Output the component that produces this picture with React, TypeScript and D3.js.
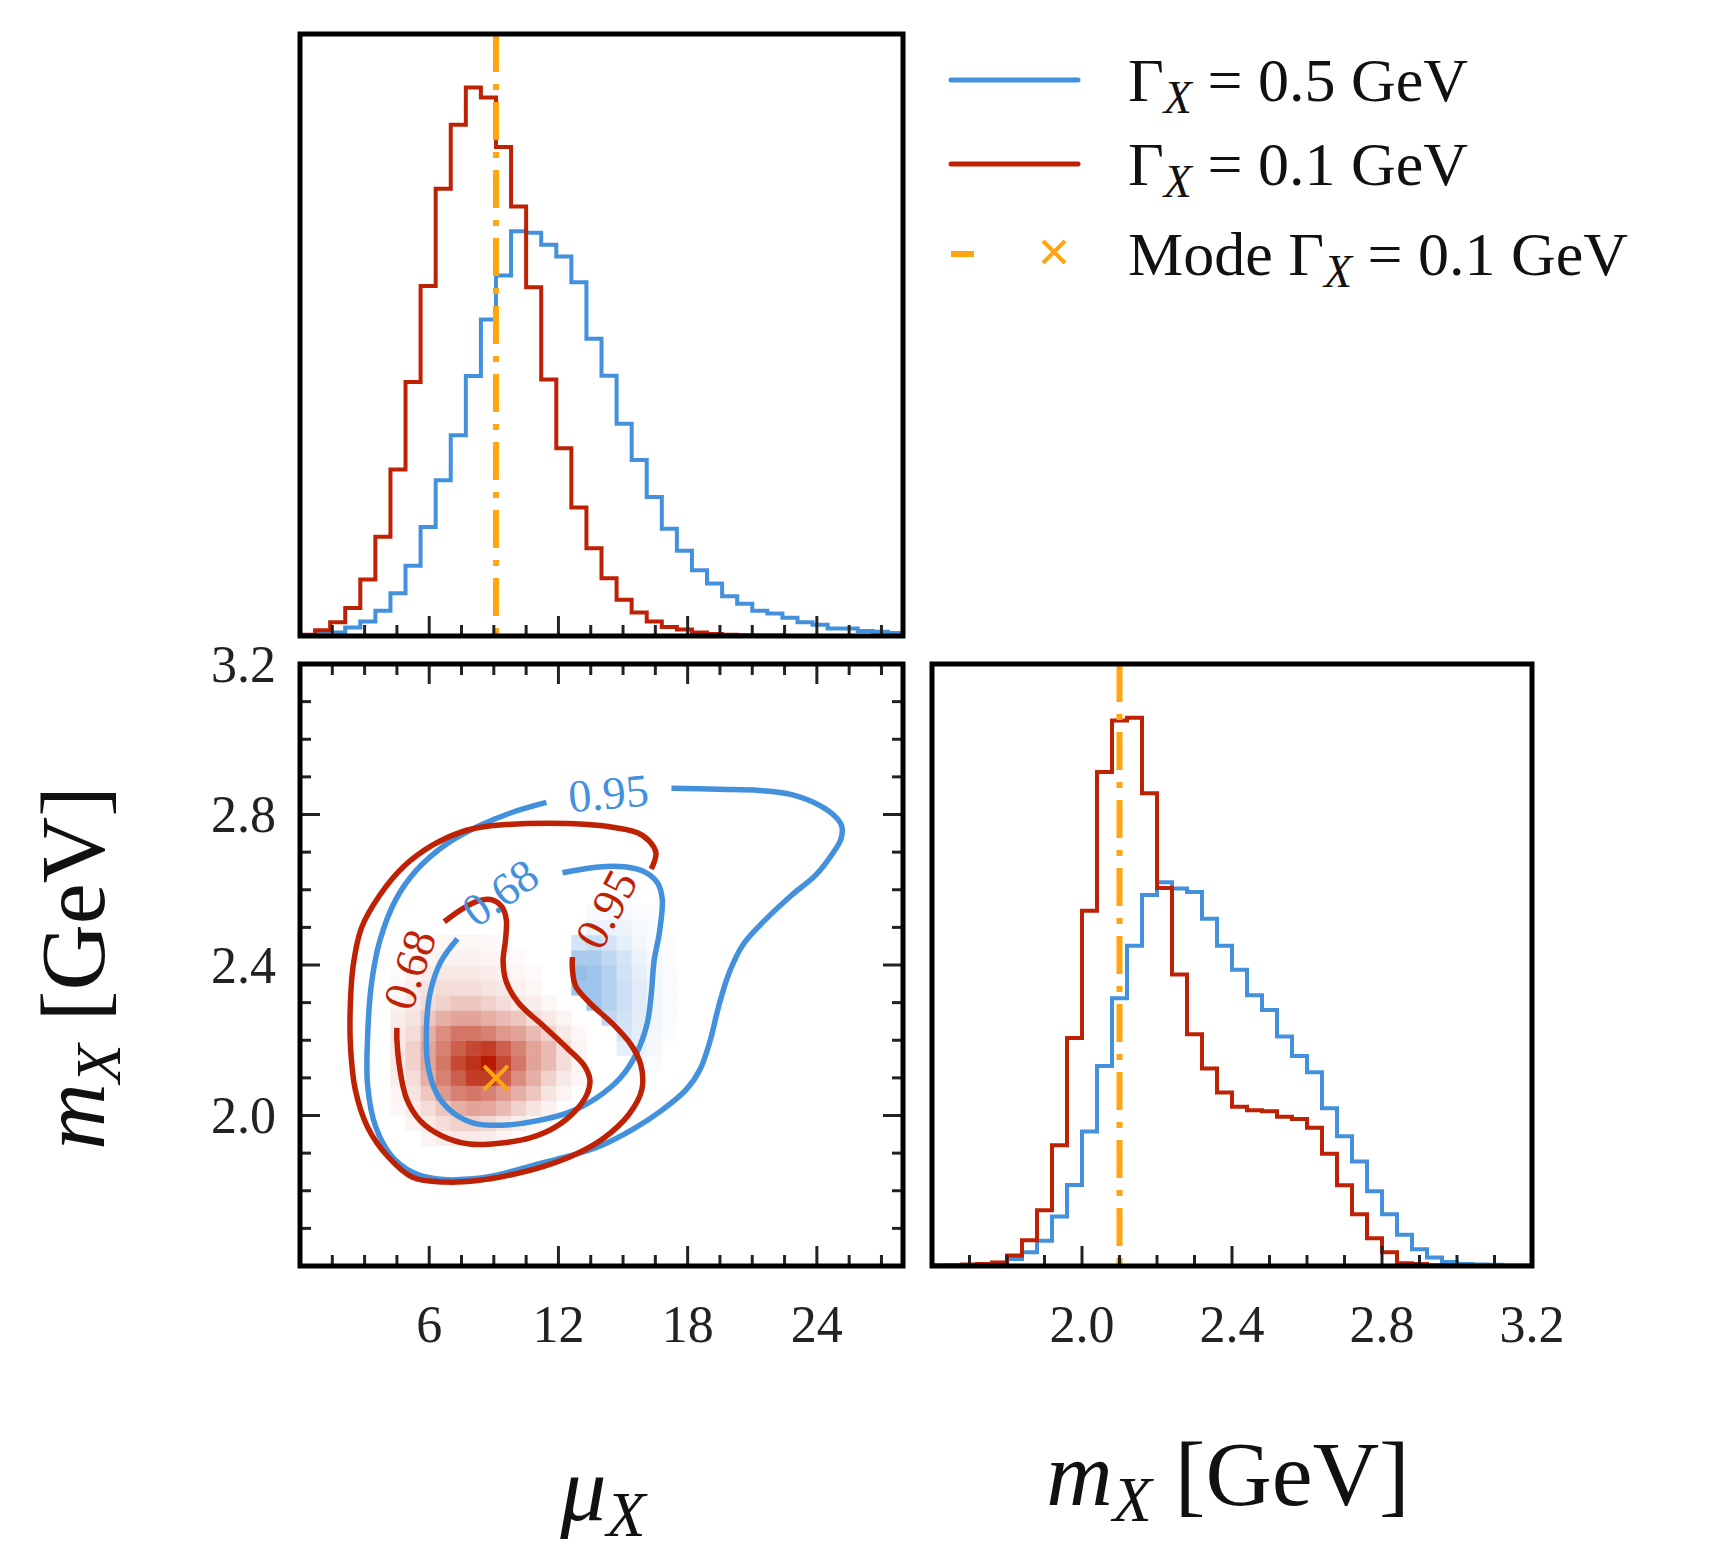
import React from "react";
import * as d3 from "d3";

const MU_BIN = 0.7;
const M_BIN = 0.04;
const muRedHist = [3,15,35,72,145,255,427,652,898,1148,1312,1408,1382,1255,1102,895,658,482,330,225,148,93,60,37,23,17,9,5,3,2,1,1,0,0,0,0,0,0,0,0];
const muBlueHist = [0,5,9,22,37,65,110,180,280,400,515,667,812,925,1039,1035,1004,974,908,763,668,545,452,357,275,219,169,135,102,83,65,58,47,35,29,19,19,13,11,8];
const mRedHist = [2,2,4,5,9,27,66,143,310,585,912,1268,1400,1407,1213,970,748,595,507,445,409,400,397,383,377,355,288,207,133,71,35,7,5,2,1,0,0,0,0,0];
const mBlueHist = [0,2,2,3,4,18,35,65,127,208,345,513,687,822,952,985,969,960,891,822,760,695,657,589,539,497,405,333,268,192,133,80,43,22,10,5,4,3,2,2];
const HIST_MAX = 1545;
const modeMu = 9.1;
const modeM = 2.1;

const muTicks = [6, 12, 18, 24];
const mTicks = [2.0, 2.4, 2.8, 3.2];

const RED_J0 = 8, RED_I0 = 6;
const redGrid = [
  [0,0,0.05,0.08,0.1,0.1,0.08,0.05,0,0,0,0,0],
  [0,0.05,0.1,0.15,0.2,0.2,0.18,0.12,0.08,0.04,0,0,0],
  [0.04,0.08,0.15,0.25,0.35,0.4,0.38,0.3,0.2,0.12,0.06,0,0],
  [0.05,0.12,0.25,0.45,0.55,0.6,0.55,0.45,0.35,0.25,0.12,0.05,0],
  [0.08,0.15,0.35,0.55,0.7,0.85,0.85,0.7,0.5,0.35,0.2,0.1,0.04],
  [0.1,0.2,0.4,0.6,0.8,0.9,1.0,0.8,0.6,0.4,0.3,0.15,0.05],
  [0.1,0.2,0.4,0.55,0.7,0.8,0.85,0.7,0.55,0.4,0.3,0.15,0.05],
  [0.1,0.15,0.35,0.5,0.6,0.6,0.55,0.45,0.4,0.3,0.2,0.1,0.03],
  [0.08,0.12,0.25,0.35,0.4,0.4,0.35,0.3,0.25,0.15,0.1,0.05,0],
  [0.05,0.1,0.15,0.2,0.25,0.25,0.2,0.15,0.1,0.08,0.04,0,0],
  [0.03,0.08,0.12,0.15,0.15,0.15,0.12,0.1,0.06,0.04,0,0,0],
  [0.02,0.05,0.08,0.1,0.1,0.1,0.08,0.06,0.04,0.02,0,0,0],
  [0,0.03,0.05,0.06,0.06,0.06,0.05,0.04,0.02,0,0,0,0],
  [0,0.02,0.03,0.04,0.04,0.04,0.03,0.02,0,0,0,0,0],
];
const BLUE_J0 = 13, BLUE_I0 = 18;
const blueGrid = [
  [0,0,0,0,0.06,0.03,0],
  [0,0,0,0.12,0.1,0.05,0],
  [0,0,0,0.2,0.12,0.06,0.02],
  [0,0,0.3,0.22,0.14,0.07,0.03],
  [0,0.45,0.35,0.24,0.14,0.07,0.03],
  [0.45,0.45,0.35,0.24,0.14,0.07,0.03],
  [0.5,0.45,0.35,0.22,0.12,0.06,0.03],
  [0.4,0.4,0.3,0.2,0.1,0.05,0.02],
  [0.2,0.25,0.2,0.12,0.06,0.03,0.02],
  [0,0.1,0.1,0.08,0.04,0.02,0],
  [0,0.04,0.04,0.04,0.03,0.02,0],
];

const blue95: [number, number][] = [[17.25,2.870],[19.43,2.867],[21.33,2.864],[22.84,2.853],[24.17,2.823],[24.93,2.790],[25.16,2.768],[25.12,2.735],[24.74,2.697],[23.98,2.641],[22.84,2.586],[21.71,2.526],[20.57,2.454],[19.91,2.377],[19.43,2.288],[19.05,2.200],[18.58,2.123],[17.92,2.068],[16.78,2.013],[15.45,1.963],[13.94,1.919],[12.42,1.891],[10.91,1.869],[9.39,1.845],[7.87,1.831],[6.36,1.831],[5.22,1.849],[4.27,1.891],[3.52,1.969],[3.14,2.079],[3.14,2.211],[3.33,2.355],[3.71,2.465],[4.46,2.575],[5.41,2.652],[6.74,2.719],[8.25,2.768],[9.77,2.804],[11.44,2.832]];
const blue68: [number, number][] = [[12.19,2.645],[13.75,2.660],[15.07,2.661],[16.02,2.647],[16.59,2.619],[16.82,2.575],[16.69,2.487],[16.44,2.410],[16.31,2.322],[16.12,2.244],[15.64,2.167],[14.89,2.101],[13.75,2.046],[12.42,2.007],[10.91,1.985],[9.39,1.974],[8.06,1.980],[7.12,2.007],[6.36,2.057],[5.94,2.134],[5.88,2.244],[6.07,2.333],[6.55,2.410],[7.31,2.470]];
const red95: [number, number][] = [[16.31,2.655],[16.53,2.697],[16.21,2.730],[15.64,2.752],[14.32,2.768],[12.42,2.776],[10.53,2.776],[8.63,2.768],[7.50,2.754],[6.17,2.719],[4.84,2.663],[3.71,2.586],[2.85,2.498],[2.47,2.399],[2.34,2.299],[2.34,2.189],[2.57,2.068],[3.14,1.969],[4.08,1.891],[5.22,1.836],[6.74,1.823],[8.25,1.827],[9.77,1.842],[11.28,1.864],[12.80,1.897],[14.13,1.941],[15.26,2.002],[15.87,2.068],[15.83,2.134],[15.36,2.189],[14.51,2.244],[13.46,2.299],[12.80,2.344],[12.65,2.388],[12.65,2.421]];
const red68: [number, number][] = [[6.70,2.515],[7.50,2.548],[8.25,2.570],[8.92,2.573],[9.39,2.553],[9.58,2.520],[9.54,2.465],[9.43,2.410],[9.58,2.355],[10.15,2.299],[11.28,2.239],[12.42,2.178],[13.18,2.134],[13.46,2.095],[13.33,2.057],[12.80,2.013],[11.85,1.969],[10.72,1.941],[9.39,1.927],[7.87,1.924],[6.55,1.947],[5.60,1.985],[4.94,2.046],[4.61,2.134],[4.50,2.200],[4.50,2.233]];
const contourLabels = [
  { text: "0.95", mu: 14.32, m: 2.856, angle: -5, series: "blue" },
  { text: "0.68", mu: 9.3, m: 2.592, angle: -35, series: "blue" },
  { text: "0.95", mu: 14.22, m: 2.548, angle: -62, series: "red" },
  { text: "0.68", mu: 5.09, m: 2.388, angle: -72, series: "red" },
];

const BLUE = "#4391dc";
const RED = "#bf2104";
const ORANGE = "#ffa50f";
const FONT = "'Liberation Serif', 'DejaVu Serif', serif";

const TOP = { x: 300, y: 34, w: 603, h: 602 };
const JOINT = { x: 300, y: 664, w: 603, h: 602 };
const RIGHT = { x: 932, y: 664, w: 600, h: 602 };

function stepPath(values: number[], binW: number, x0: number, xs: any, ys: any) {
  const pts: [number, number][] = values.map((v, i) => [x0 + i * binW, v]);
  pts.push([x0 + values.length * binW, values[values.length - 1]]);
  return d3.line<[number, number]>().x(d => xs(d[0])).y(d => ys(d[1])).curve(d3.curveStepAfter)(pts) || "";
}

export default function App() {
  const muX = d3.scaleLinear().domain([0, 28]).range([TOP.x, TOP.x + TOP.w]);
  const topY = d3.scaleLinear().domain([0, HIST_MAX]).range([TOP.y + TOP.h, TOP.y]);
  const jY = d3.scaleLinear().domain([1.6, 3.2]).range([JOINT.y + JOINT.h, JOINT.y]);
  const mX = d3.scaleLinear().domain([1.6, 3.2]).range([RIGHT.x, RIGHT.x + RIGHT.w]);
  const rY = d3.scaleLinear().domain([0, HIST_MAX]).range([RIGHT.y + RIGHT.h, RIGHT.y]);

  const redColor = d3.interpolateRgb("#ffffff", "#b71a00");
  const blueColor = d3.interpolateRgb("#ffffff", "#2a7ad0");

  const cline = d3.line<[number, number]>().x(d => muX(d[0])).y(d => jY(d[1])).curve(d3.curveCatmullRom);

  const muMinor = d3.range(0, 28.01, 1.5);
  const mMinor = d3.range(1.6, 3.201, 0.1);

  const tickLines: JSX.Element[] = [];
  muMinor.forEach((v, i) => {
    const major = muTicks.some(t => Math.abs(t - v) < 1e-6);
    const len = major ? 20 : 11;
    tickLines.push(<line key={"tt" + i} x1={muX(v)} x2={muX(v)} y1={TOP.y + TOP.h} y2={TOP.y + TOP.h - len} stroke="#222" strokeWidth={3} />);
    tickLines.push(<line key={"jb" + i} x1={muX(v)} x2={muX(v)} y1={JOINT.y + JOINT.h} y2={JOINT.y + JOINT.h - len} stroke="#222" strokeWidth={3} />);
    tickLines.push(<line key={"jt" + i} x1={muX(v)} x2={muX(v)} y1={JOINT.y} y2={JOINT.y + len} stroke="#222" strokeWidth={3} />);
  });
  mMinor.forEach((v, i) => {
    const major = mTicks.some(t => Math.abs(t - v) < 1e-6);
    const len = major ? 20 : 11;
    tickLines.push(<line key={"jl" + i} x1={JOINT.x} x2={JOINT.x + len} y1={jY(v)} y2={jY(v)} stroke="#222" strokeWidth={3} />);
    tickLines.push(<line key={"jr" + i} x1={JOINT.x + JOINT.w} x2={JOINT.x + JOINT.w - len} y1={jY(v)} y2={jY(v)} stroke="#222" strokeWidth={3} />);
    tickLines.push(<line key={"rb" + i} x1={mX(v)} x2={mX(v)} y1={RIGHT.y + RIGHT.h} y2={RIGHT.y + RIGHT.h - len} stroke="#222" strokeWidth={3} />);
  });

  const cells: JSX.Element[] = [];
  blueGrid.forEach((row, r) => row.forEach((v, c) => {
    if (v <= 0) return;
    const i = BLUE_I0 + c, j = BLUE_J0 + r;
    const x0 = muX(i * MU_BIN), x1 = muX((i + 1) * MU_BIN);
    const y0 = jY(1.6 + (j + 1) * M_BIN), y1 = jY(1.6 + j * M_BIN);
    cells.push(<rect key={"b" + r + "_" + c} x={x0} y={y0} width={x1 - x0 + 0.5} height={y1 - y0 + 0.5} fill={blueColor(v)} />);
  }));
  redGrid.forEach((row, r) => row.forEach((v, c) => {
    if (v <= 0) return;
    const i = RED_I0 + c, j = RED_J0 + r;
    const x0 = muX(i * MU_BIN), x1 = muX((i + 1) * MU_BIN);
    const y0 = jY(1.6 + (j + 1) * M_BIN), y1 = jY(1.6 + j * M_BIN);
    cells.push(<rect key={"r" + r + "_" + c} x={x0} y={y0} width={x1 - x0 + 0.5} height={y1 - y0 + 0.5} fill={redColor(v)} />);
  }));

  const xMark = (cx: number, cy: number, s: number, key: string) => (
    <g key={key} stroke={ORANGE} strokeWidth={4}>
      <line x1={cx - s} y1={cy - s} x2={cx + s} y2={cy + s} />
      <line x1={cx - s} y1={cy + s} x2={cx + s} y2={cy - s} />
    </g>
  );

  const legendItems = [
    { label: "0.5", color: BLUE, y: 80 },
    { label: "0.1", color: RED, y: 164 },
  ];

  return (
    <svg width={1733} height={1568} style={{ position: "absolute", left: 0, top: 0, background: "#fff" }} fontFamily={FONT}>
      <rect width={1733} height={1568} fill="#fff" />
      <path d={stepPath(muBlueHist, MU_BIN, 0, muX, topY)} fill="none" stroke={BLUE} strokeWidth={4} />
      <path d={stepPath(muRedHist, MU_BIN, 0, muX, topY)} fill="none" stroke={RED} strokeWidth={4} />
      <line x1={muX(modeMu)} x2={muX(modeMu)} y1={TOP.y} y2={TOP.y + TOP.h} stroke={ORANGE} strokeWidth={6} strokeDasharray="38 12 6 12" />

      {cells}
      <path d={cline(blue95) || ""} fill="none" stroke={BLUE} strokeWidth={5.5} />
      <path d={cline(blue68) || ""} fill="none" stroke={BLUE} strokeWidth={5.5} />
      <path d={cline(red95) || ""} fill="none" stroke={RED} strokeWidth={5.5} />
      <path d={cline(red68) || ""} fill="none" stroke={RED} strokeWidth={5.5} />
      {contourLabels.map((l, i) => (
        <text key={"cl" + i} x={muX(l.mu)} y={jY(l.m)} transform={`rotate(${l.angle} ${muX(l.mu)} ${jY(l.m)})`} textAnchor="middle" dominantBaseline="central" fontSize={46} fill={l.series === "blue" ? BLUE : RED}>{l.text}</text>
      ))}
      {xMark(muX(modeMu), jY(modeM), 12, "xm")}

      <path d={stepPath(mBlueHist, M_BIN, 1.6, mX, rY)} fill="none" stroke={BLUE} strokeWidth={4} />
      <path d={stepPath(mRedHist, M_BIN, 1.6, mX, rY)} fill="none" stroke={RED} strokeWidth={4} />
      <line x1={mX(modeM)} x2={mX(modeM)} y1={RIGHT.y} y2={RIGHT.y + RIGHT.h} stroke={ORANGE} strokeWidth={6} strokeDasharray="38 12 6 12" />

      {tickLines}
      {[TOP, JOINT, RIGHT].map((p, i) => (
        <rect key={"f" + i} x={p.x} y={p.y} width={p.w} height={p.h} fill="none" stroke="#000" strokeWidth={5} />
      ))}

      {muTicks.map(t => (
        <text key={"mut" + t} x={muX(t)} y={1342} textAnchor="middle" fontSize={52} fill="#222">{t}</text>
      ))}
      {mTicks.map(t => (
        <text key={"mt" + t} x={mX(t)} y={1342} textAnchor="middle" fontSize={52} fill="#222">{t.toFixed(1)}</text>
      ))}
      {mTicks.map(t => (
        <text key={"myt" + t} x={276} y={jY(t)} textAnchor="end" dominantBaseline="central" fontSize={52} fill="#222">{t.toFixed(1)}</text>
      ))}

      <text x={603} y={1520} textAnchor="middle" fontSize={92} fill="#111">
        <tspan fontStyle="italic">μ</tspan><tspan fontStyle="italic" fontSize={64} dy={16}>X</tspan>
      </text>
      <text x={1228} y={1505} textAnchor="middle" fontSize={92} fill="#111">
        <tspan fontStyle="italic">m</tspan><tspan fontStyle="italic" fontSize={64} dy={16}>X</tspan><tspan dy={-16}> [GeV]</tspan>
      </text>
      <text transform="translate(104,968) rotate(-90)" textAnchor="middle" fontSize={92} fill="#111">
        <tspan fontStyle="italic">m</tspan><tspan fontStyle="italic" fontSize={64} dy={16}>X</tspan><tspan dy={-16}> [GeV]</tspan>
      </text>

      {legendItems.map((it, i) => (
        <g key={"lg" + i}>
          <line x1={951} x2={1078} y1={it.y} y2={it.y} stroke={it.color} strokeWidth={5} strokeLinecap="round" />
          <text x={1128} y={it.y + 21} fontSize={62} fill="#111">
            Γ<tspan fontStyle="italic" fontSize={46} dy={12}>X</tspan><tspan dy={-12}> = {it.label} GeV</tspan>
          </text>
        </g>
      ))}
      <line x1={951} x2={974} y1={254} y2={254} stroke={ORANGE} strokeWidth={6} />
      {xMark(1054, 252, 11, "lx")}
      <text x={1128} y={275} fontSize={62} fill="#111">
        Mode Γ<tspan fontStyle="italic" fontSize={46} dy={12}>X</tspan><tspan dy={-12}> = 0.1 GeV</tspan>
      </text>
    </svg>
  );
}
